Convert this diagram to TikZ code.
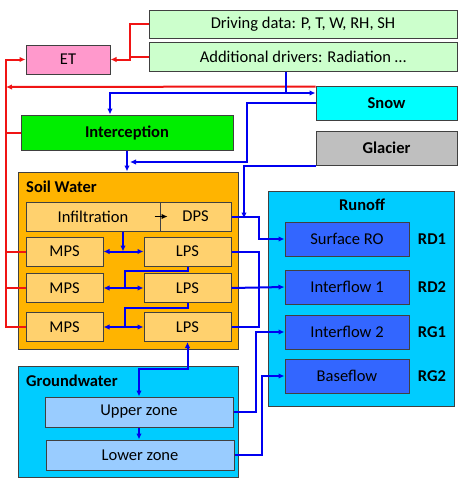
\documentclass[tikz,border=0pt]{standalone}
\usepackage{fontspec}
\setmainfont{Carlito}
\usetikzlibrary{arrows.meta}
\definecolor{drivegreen}{RGB}{204,255,204}
\definecolor{etpink}{RGB}{255,153,204}
\definecolor{snowcyan}{RGB}{0,255,255}
\definecolor{intgreen}{RGB}{0,238,0}
\definecolor{glaciergray}{RGB}{191,191,191}
\definecolor{soilorange}{RGB}{255,180,0}
\definecolor{soilbox}{RGB}{255,209,110}
\definecolor{runcyan}{RGB}{0,204,255}
\definecolor{robox}{RGB}{51,102,255}
\definecolor{zonebox}{RGB}{153,204,255}
\definecolor{boxgray}{RGB}{64,64,64}
\definecolor{flowblue}{RGB}{0,0,240}
\definecolor{flowred}{RGB}{240,20,20}
\begin{document}
\begin{tikzpicture}
  [x=1pt,y=-1pt,>={Latex[length=6pt,width=5.5pt]},
   every node/.style={inner sep=0pt,font=\fontsize{16.5}{19}\selectfont}]
  \tikzstyle{box} = [draw=boxgray,line width=1pt]
  \tikzstyle{bold} = [font=\fontsize{16.5}{19}\selectfont\bfseries]
  \tikzstyle{bflow} = [draw=flowblue,line width=2pt]
  \tikzstyle{rflow} = [draw=flowred,line width=2pt]
  \useasboundingbox (0,0) rectangle (466,499);
  % forcing and top boxes
  \node[box,fill=drivegreen,minimum width=308,minimum height=28] (drive) at (303,24) {Driving data: P, T, W, RH, SH};
  \node[box,fill=drivegreen,minimum width=308,minimum height=29] (addl) at (303,56.5) {Additional drivers: Radiation \dots};
  \node[box,fill=etpink,minimum width=84,minimum height=29] (et) at (68,59.5) {ET};
  \node[box,bold,fill=snowcyan,minimum width=141,minimum height=34] (snow) at (386.5,103) {Snow};
  \node[box,bold,fill=intgreen,minimum width=212,minimum height=35] (interc) at (127,132.5) {Interception};
  \node[box,bold,fill=glaciergray,minimum width=141,minimum height=34] (glacier) at (386.5,148) {Glacier};
  % soil water
  \node[box,fill=soilorange,minimum width=220,minimum height=177] (soil) at (128,260.5) {};
  \node[bold,anchor=west] (soillbl) at (26,187) {Soil Water};
  \node[box,fill=soilbox,minimum width=134,minimum height=29] (infil) at (93,216.5) {Infiltration};
  \node[box,fill=soilbox,minimum width=71,minimum height=29] (dps) at (195.5,216.5) {DPS};
  \foreach \i/\y in {1/251.5,2/288,3/327} {
    \node[box,fill=soilbox,minimum width=77,minimum height=29] (mps\i) at (64.5,\y) {MPS};
    \node[box,fill=soilbox,minimum width=87,minimum height=29] (lps\i) at (187.5,\y) {LPS};
  }
  % runoff
  \node[box,fill=runcyan,minimum width=186,minimum height=215] (runoff) at (361,298.5) {};
  \node[bold] (runlbl) at (362,205) {Runoff};
  \foreach \n/\y/\t/\r in {surf/239/Surface RO/RD1,if1/287/Interflow 1/RD2,if2/332/Interflow 2/RG1,base/376/Baseflow/RG2} {
    \node[box,fill=robox,minimum width=124,minimum height=34] (\n) at (347,\y) {\t};
    \node[bold] (\n lbl) at (432,\y) {\r};
  }
  % groundwater
  \node[box,fill=runcyan,minimum width=220,minimum height=111] (gw) at (128,421.5) {};
  \node[bold,anchor=west] (gwlbl) at (26,381) {Groundwater};
  \node[box,fill=zonebox,minimum width=188,minimum height=30] (upper) at (139,412) {Upper zone};
  \node[box,fill=zonebox,minimum width=188,minimum height=30] (lower) at (140,455) {Lower zone};
  % junctions
  \coordinate (rbus) at (6,0);
  \coordinate (pj) at (286,93);
  \coordinate (tf) at (127,162);
  \coordinate (gj) at (244,216.5);
  \coordinate (j1) at (123,251.5);
  \coordinate (j2) at (125,288);
  \coordinate (j3) at (125,327);
  % evaporation
  \draw[rflow,->] (drive.west) -- ++(-19,0) |- (et.east);
  \draw[rflow] (addl.west) -- ++(-19,0);
  \draw[rflow,->] (mps3.west) -- (mps3.west -| rbus) |- (et.west);
  \foreach \s in {mps1,mps2,interc}
    \draw[rflow] (\s.west) -- (\s.west -| rbus);
  \draw[rflow,->] (snow.north west) ++(0,1) -- (rbus |- 0,87);
  % water flows
  \draw[bflow] (addl.south -| pj) -- (pj);
  \draw[bflow,->] (pj) -- (pj -| snow.west);
  \draw[bflow,->] (pj) -| ([xshift=-17pt]interc.north);
  \draw[bflow,->] (snow.west) -- ++(-69,0) |- ([xshift=3pt]tf);
  \draw[bflow,->] (interc.south) -- (soil.north -| interc.south);
  \draw[bflow,->] (glacier.south west) -| ([yshift=-2pt]gj);
  \draw[->,line width=1pt] ([xshift=-6pt]infil.east) -- ([xshift=8pt]dps.west);
  \draw[bflow,->] (dps.east) -- ++(27,0) |- (surf.west);
  \draw[bflow,->] (infil.south -| j1) -- (j1);
  \draw[bflow] (lps1.south) -- ++(0,4) -| (j2);
  \draw[bflow] (lps2.south) -- ++(0,5) -| (j3);
  \foreach \i in {1,2,3}
    \draw[bflow,<->] (mps\i.east) -- (lps\i.west);
  \draw[bflow] (lps1.east) -- ++(27,0) |- (lps3.east);
  \draw[bflow,->] (lps2.east) -- (if1.west);
  \draw[bflow,<->] (lps3.south) -- ++(0,27) -| (upper.north);
  \draw[bflow,->] (upper.south) -- (upper.south |- lower.north);
  \draw[bflow,->] (upper.east) -- ++(22,0) |- (if2.west);
  \draw[bflow,->] (lower.east) -- ++(27,0) |- (base.west);
\end{tikzpicture}
\end{document}
